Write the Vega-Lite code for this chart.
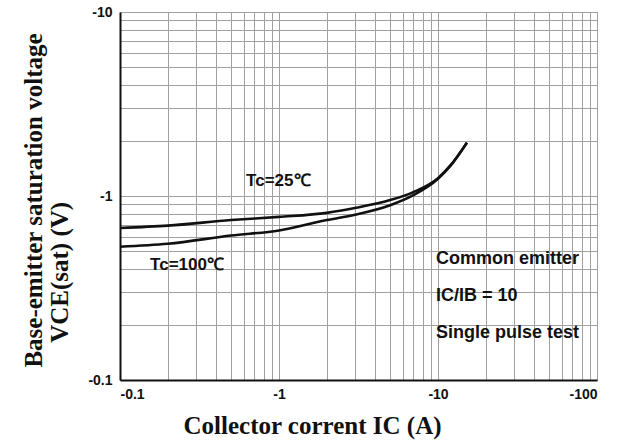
{
  "$schema": "https://vega.github.io/schema/vega-lite/v6.json",
  "width": 477,
  "height": 368,
  "autosize": {"type": "none"},
  "padding": {"left": 120, "top": 12, "right": 22, "bottom": 64},
  "background": "white",
  "config": {
    "view": {"stroke": "#777", "strokeWidth": 1},
    "axis": {
      "labelFont": "Liberation Sans",
      "labelFontWeight": "bold",
      "labelFontSize": 14,
      "labelColor": "#111",
      "titleFont": "Liberation Serif",
      "titleFontWeight": "bold",
      "titleFontSize": 25,
      "titleColor": "#111",
      "gridColor": "#a0a0a0",
      "gridWidth": 1,
      "gridOpacity": 1,
      "domainColor": "#111",
      "domainWidth": 2,
      "ticks": false,
      "labelOverlap": false
    }
  },
  "datasets": {
    "curves": [
      {"I": 0.1, "V": 0.67, "series": "Tc=25℃"},
      {"I": 0.2, "V": 0.69, "series": "Tc=25℃"},
      {"I": 0.5, "V": 0.74, "series": "Tc=25℃"},
      {"I": 1, "V": 0.77, "series": "Tc=25℃"},
      {"I": 2, "V": 0.81, "series": "Tc=25℃"},
      {"I": 3, "V": 0.86, "series": "Tc=25℃"},
      {"I": 5, "V": 0.95, "series": "Tc=25℃"},
      {"I": 7, "V": 1.05, "series": "Tc=25℃"},
      {"I": 10, "V": 1.25, "series": "Tc=25℃"},
      {"I": 12, "V": 1.47, "series": "Tc=25℃"},
      {"I": 15.2, "V": 1.95, "series": "Tc=25℃"},
      {"I": 0.1, "V": 0.53, "series": "Tc=100℃"},
      {"I": 0.2, "V": 0.55, "series": "Tc=100℃"},
      {"I": 0.5, "V": 0.61, "series": "Tc=100℃"},
      {"I": 1, "V": 0.65, "series": "Tc=100℃"},
      {"I": 2, "V": 0.74, "series": "Tc=100℃"},
      {"I": 3, "V": 0.79, "series": "Tc=100℃"},
      {"I": 5, "V": 0.89, "series": "Tc=100℃"},
      {"I": 7, "V": 1.01, "series": "Tc=100℃"},
      {"I": 10, "V": 1.24, "series": "Tc=100℃"},
      {"I": 12, "V": 1.46, "series": "Tc=100℃"},
      {"I": 15.2, "V": 1.95, "series": "Tc=100℃"}
    ],
    "labels": [
      {"I": 0.99, "V": 1.21, "text": "Tc=25℃", "align": "center"},
      {"I": 0.264, "V": 0.42, "text": "Tc=100℃", "align": "center"},
      {"I": 9.7, "V": 0.455, "text": "Common emitter", "align": "left"},
      {"I": 9.7, "V": 0.286, "text": "IC/IB = 10", "align": "left"},
      {"I": 9.7, "V": 0.18, "text": "Single pulse test", "align": "left"}
    ]
  },
  "encoding": {
    "x": {
      "field": "I",
      "type": "quantitative",
      "scale": {"type": "log", "domain": [0.1, 100], "nice": false},
      "axis": {
        "title": "Collector corrent IC (A)",
        "values": [0.1, 0.2, 0.3, 0.4, 0.5, 0.6, 0.7, 0.8, 0.9, 1, 2, 3, 4, 5, 6, 7, 8, 9, 10, 20, 30, 40, 50, 60, 70, 80, 90, 100],
        "labelExpr": "(datum.value == 0.1 || datum.value == 1 || datum.value == 10 || datum.value == 100) ? '-' + datum.value : ''",
        "labelPadding": 7,
        "titlePadding": 12,
        "titleX": 192
      }
    },
    "y": {
      "field": "V",
      "type": "quantitative",
      "scale": {"type": "log", "domain": [0.1, 10], "nice": false},
      "axis": {
        "title": ["Base-emitter saturation voltage", "VCE(sat) (V)\u00a0\u00a0\u00a0\u00a0\u00a0\u00a0\u00a0\u00a0\u00a0\u00a0\u00a0\u00a0\u00a0\u00a0\u00a0\u00a0\u00a0\u00a0\u00a0\u00a0\u00a0\u00a0\u00a0\u200b"],
        "values": [0.1, 0.2, 0.3, 0.4, 0.5, 0.6, 0.7, 0.8, 0.9, 1, 2, 3, 4, 5, 6, 7, 8, 9, 10],
        "labelExpr": "(datum.value == 0.1 || datum.value == 1 || datum.value == 10) ? '-' + datum.value : ''",
        "labelPadding": 8,
        "titleX": -74,
        "titleY": 188,
        "titleLineHeight": 26
      }
    }
  },
  "layer": [
    {
      "data": {"name": "curves"},
      "mark": {"type": "line", "color": "#111", "strokeWidth": 2.6, "interpolate": "monotone"},
      "encoding": {"detail": {"field": "series"}}
    },
    {
      "data": {"name": "labels"},
      "transform": [{"filter": "datum.align == 'center'"}],
      "mark": {"type": "text", "font": "Liberation Sans", "fontWeight": "bold", "fontSize": 17, "color": "#111", "align": "center", "baseline": "middle"},
      "encoding": {"text": {"field": "text"}}
    },
    {
      "data": {"name": "labels"},
      "transform": [{"filter": "datum.align == 'left'"}],
      "mark": {"type": "text", "font": "Liberation Sans", "fontWeight": "bold", "fontSize": 18, "color": "#111", "align": "left", "baseline": "middle"},
      "encoding": {"text": {"field": "text"}}
    }
  ]
}
